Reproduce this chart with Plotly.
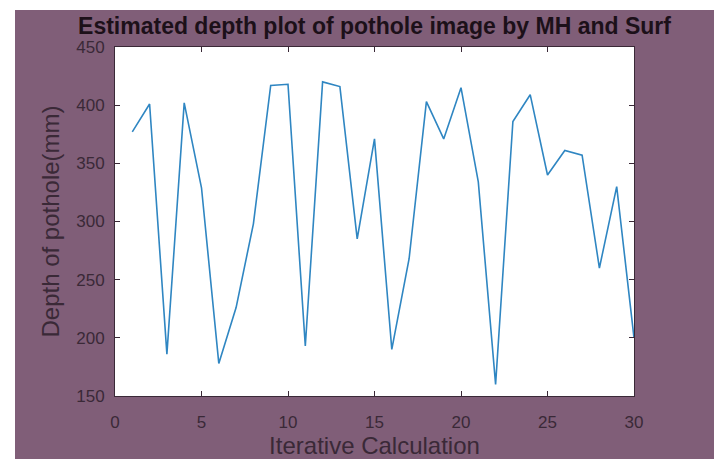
import plotly.graph_objects as go

iterations = list(range(1, 31))
depth_mm = [377, 401, 186, 402, 329, 178, 226, 298, 417, 418,
            193, 420, 416, 285, 371, 190, 268, 403, 371, 415,
            334, 160, 386, 409, 340, 361, 357, 260, 330, 200]
x_ticks = [0, 5, 10, 15, 20, 25, 30]
y_ticks = [150, 200, 250, 300, 350, 400, 450]

MAUVE = "#805e78"
TXT = "#3a2937"

fig = go.Figure()
fig.add_trace(go.Scatter(x=iterations, y=depth_mm, mode="lines",
                         line=dict(color="#2f86c2", width=1.6),
                         showlegend=False))

# page body has an 8px margin; figure coordinates are page - 8
W, H = 714, 451
L, R, T, B = 107, 88, 39, 63
pw, ph = W - L - R, H - T - B

def px_x(p):
    return (p - L) / pw

def px_y(p):
    return (H - B - p) / ph

fig.update_layout(
    width=W, height=H,
    margin=dict(l=L, r=R, t=T, b=B, autoexpand=False),
    paper_bgcolor="white",
    plot_bgcolor="rgba(0,0,0,0)",
    font=dict(family="Liberation Sans, Arial, sans-serif", color=TXT, size=17),
    title=dict(text="<b>Estimated depth plot of pothole image by MH and Surf</b>",
               x=px_x(366.5), xref="paper", xanchor="center",
               y=1 - 18 / H, yanchor="middle",
               font=dict(size=23, color="#1c1019")),
    shapes=[
        dict(type="rect", xref="paper", yref="paper", layer="below",
             x0=px_x(7), x1=px_x(W + 5), y0=px_y(H + 5), y1=px_y(2),
             fillcolor=MAUVE, line=dict(width=0)),
        dict(type="rect", xref="paper", yref="paper", layer="below",
             x0=0, x1=1, y0=0, y1=1,
             fillcolor="white", line=dict(width=0)),
    ],
)
fig.update_xaxes(range=[0, 30], tickvals=x_ticks, ticks="inside", ticklen=5,
                 tickcolor="#3a2937", showline=True, linecolor="#3a2937",
                 linewidth=1, mirror="ticks", showgrid=False, zeroline=False,
                 automargin=True,
                 ticklabelstandoff=11, tickfont=dict(size=17, color=TXT),
                 title=dict(text="Iterative Calculation", standoff=10,
                            font=dict(size=24, color=TXT)))
fig.update_yaxes(range=[150, 450], tickvals=y_ticks, ticks="inside", ticklen=5,
                 tickcolor="#3a2937", showline=True, linecolor="#3a2937",
                 linewidth=1, mirror="ticks", showgrid=False, zeroline=False,
                 automargin=False,
                 ticklabelstandoff=6, tickfont=dict(size=17, color=TXT),
                 title=dict(text="Depth of pothole(mm)", standoff=9,
                            font=dict(size=24, color=TXT)))

fig.write_html("out.html")
